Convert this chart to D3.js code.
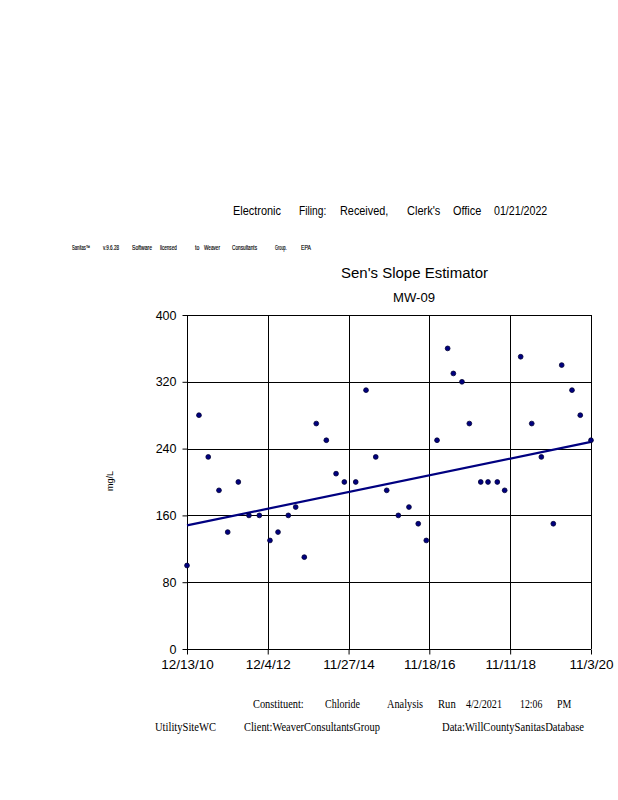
<!DOCTYPE html>
<html>
<head>
<meta charset="utf-8">
<script src="https://cdn.jsdelivr.net/npm/d3@7"></script>
<style>
  html, body { margin: 0; padding: 0; background: #fff; }
  svg { display: block; }
  text { fill: #000; }
</style>
</head>
<body>
<svg id="chart" width="618" height="800"></svg>
<script>
// ---- data ----
const sampleDates = [
  "2010-12-13","2011-03-30","2011-06-21","2011-09-25","2011-12-12",
  "2012-03-16","2012-06-19","2012-09-20","2012-12-24","2013-03-06",
  "2013-06-06","2013-08-11","2013-10-27","2014-02-11","2014-05-12",
  "2014-08-07","2014-10-20","2015-01-30","2015-05-02","2015-07-28",
  "2015-11-03","2016-02-15","2016-05-20","2016-08-11","2016-10-22",
  "2017-01-26","2017-05-01","2017-06-21","2017-09-06","2017-11-11",
  "2018-02-21","2018-04-27","2018-07-19","2018-09-23","2019-02-13",
  "2019-05-23","2019-08-17","2019-12-02","2020-02-15","2020-05-17",
  "2020-07-30","2020-11-03"
];
const chlorideValues = [
  100,280,230,190,140,
  200,160,160,130,140,
  160,170,110,270,250,
  210,200,200,310,230,
  190,160,170,150,130,
  250,360,330,320,270,
  200,200,200,190,350,
  270,230,150,340,310,
  280,250
];
const trendDates = ["2010-12-13","2020-11-03"];
const trendValues = [148, 248];
const xTickDates = ["2010-12-13","2012-12-04","2014-11-27","2016-11-18","2018-11-11","2020-11-03"];
const xTickLabels = ["12/13/10","12/4/12","11/27/14","11/18/16","11/11/18","11/3/20"];
const yTickValues = [0, 80, 160, 240, 320, 400];

const headerWords = ["Electronic","Filing:","Received,","Clerk's","Office","01/21/2022"];
const licenseWords = ["Sanitas\u2122","v.9.6.28","Software","licensed","to","Weaver","Consultants","Group.","EPA"];
const footerRow1 = ["Constituent:","Chloride","Analysis","Run","4/2/2021","12:06","PM"];
const footerRow2 = ["UtilitySiteWC","Client:WeaverConsultantsGroup","Data:WillCountySanitasDatabase"];
const chartTitle = "Sen's Slope Estimator";
const chartSubtitle = "MW-09";
const yAxisLabel = "mg/L";

// ---- layout ----
const parse = d3.timeParse("%Y-%m-%d");
const svg = d3.select("#chart");
const plot = { left: 187, right: 591, top: 315, bottom: 649 };
const navy = "#000080";

const x = d3.scaleTime()
  .domain([parse(xTickDates[0]), parse(xTickDates[xTickDates.length - 1])])
  .range([plot.left, plot.right]);
const y = d3.scaleLinear().domain([0, 400]).range([plot.bottom, plot.top]);

// header words
const headerX = [233, 299, 340, 407, 453, 494];
const headerW = [48, 27.3, 48.3, 33.3, 28.3, 53.3];
svg.append("g").selectAll("text").data(headerWords).join("text")
  .attr("x", (d, i) => headerX[i]).attr("y", 215)
  .attr("font-family", "Arial, 'Liberation Sans', sans-serif")
  .attr("font-size", 13)
  .attr("textLength", (d, i) => headerW[i])
  .attr("lengthAdjust", "spacingAndGlyphs")
  .text(d => d);

// license line
const licX = [72, 103, 132, 160, 195, 204, 232, 275, 301];
const licW = [18, 16, 20, 16.7, 4.3, 16, 25, 11.7, 10];
svg.append("g").selectAll("text").data(licenseWords).join("text")
  .attr("x", (d, i) => licX[i]).attr("y", 250)
  .attr("font-family", "Arial, 'Liberation Sans', sans-serif")
  .attr("font-size", 6.5)
  .attr("stroke", "#000").attr("stroke-width", 0.15)
  .attr("textLength", (d, i) => licW[i])
  .attr("lengthAdjust", "spacingAndGlyphs")
  .text(d => d);

// titles
svg.append("text").attr("x", 414.5).attr("y", 278)
  .attr("text-anchor", "middle")
  .attr("font-family", "Arial, 'Liberation Sans', sans-serif")
  .attr("font-size", 15.5)
  .attr("textLength", 147).attr("lengthAdjust", "spacingAndGlyphs")
  .text(chartTitle);
svg.append("text").attr("x", 414).attr("y", 302)
  .attr("text-anchor", "middle")
  .attr("font-family", "Arial, 'Liberation Sans', sans-serif")
  .attr("font-size", 13.5)
  .attr("textLength", 42).attr("lengthAdjust", "spacingAndGlyphs")
  .text(chartSubtitle);

// gridlines
const grid = svg.append("g").attr("stroke", "#000").attr("stroke-width", 1).attr("shape-rendering", "crispEdges");
grid.selectAll("line.h").data(yTickValues).join("line").attr("class", "h")
  .attr("x1", plot.left).attr("x2", plot.right)
  .attr("y1", d => Math.round(y(d)) + 0.5).attr("y2", d => Math.round(y(d)) + 0.5);
grid.selectAll("line.v").data(xTickDates).join("line").attr("class", "v")
  .attr("y1", plot.top).attr("y2", plot.bottom)
  .attr("x1", d => Math.round(x(parse(d))) + 0.5).attr("x2", d => Math.round(x(parse(d))) + 0.5);

// y axis
const yAxis = d3.axisLeft(y).tickValues(yTickValues).tickSize(5).tickPadding(6);
const gy = svg.append("g").attr("transform", `translate(${plot.left + 0.5},0)`).call(yAxis);
gy.select(".domain").remove();
gy.selectAll(".tick line").attr("stroke", "#000");
gy.selectAll(".tick text")
  .attr("font-family", "Arial, 'Liberation Sans', sans-serif")
  .attr("font-size", 12.5).attr("fill", "#000");

// x axis
const xAxis = d3.axisBottom(x).tickValues(xTickDates.map(parse))
  .tickFormat((d, i) => xTickLabels[i]).tickSize(5).tickPadding(5);
const gx = svg.append("g").attr("transform", `translate(0,${plot.bottom + 0.5})`).call(xAxis);
gx.select(".domain").remove();
gx.selectAll(".tick line").attr("stroke", "#000");
gx.selectAll(".tick text")
  .attr("font-family", "Arial, 'Liberation Sans', sans-serif")
  .attr("font-size", 13.5).attr("fill", "#000");

// y axis label
svg.append("text")
  .attr("transform", "translate(113,481) rotate(-90)")
  .attr("text-anchor", "middle")
  .attr("font-family", "Arial, 'Liberation Sans', sans-serif")
  .attr("font-size", 9)
  .text(yAxisLabel);

// trend line
const line = d3.line().x(d => x(d[0])).y(d => y(d[1]));
svg.append("path")
  .datum(trendDates.map((d, i) => [parse(d), trendValues[i]]))
  .attr("d", line)
  .attr("fill", "none").attr("stroke", navy).attr("stroke-width", 2.2);

// points
svg.append("g").selectAll("circle").data(sampleDates.map((d, i) => [parse(d), chlorideValues[i]]))
  .join("circle")
  .attr("cx", d => x(d[0])).attr("cy", d => y(d[1]))
  .attr("r", 2.4)
  .attr("fill", navy).attr("stroke", "#000033").attr("stroke-width", 0.8);

// footer
const f1X = [253, 325, 387, 438, 466, 520, 557];
const f1W = [50.7, 35, 36, 17.7, 36, 22.3, 14.3];
svg.append("g").selectAll("text").data(footerRow1).join("text")
  .attr("x", (d, i) => f1X[i]).attr("y", 708)
  .attr("font-family", "'Times New Roman', 'Liberation Serif', serif")
  .attr("font-size", 12)
  .attr("textLength", (d, i) => f1W[i]).attr("lengthAdjust", "spacingAndGlyphs")
  .text(d => d);
const f2X = [155, 244, 442];
const f2W = [61, 136, 142];
svg.append("g").selectAll("text").data(footerRow2).join("text")
  .attr("x", (d, i) => f2X[i]).attr("y", 731)
  .attr("font-family", "'Times New Roman', 'Liberation Serif', serif")
  .attr("font-size", 12)
  .attr("textLength", (d, i) => f2W[i]).attr("lengthAdjust", "spacingAndGlyphs")
  .text(d => d);
</script>
</body>
</html>
